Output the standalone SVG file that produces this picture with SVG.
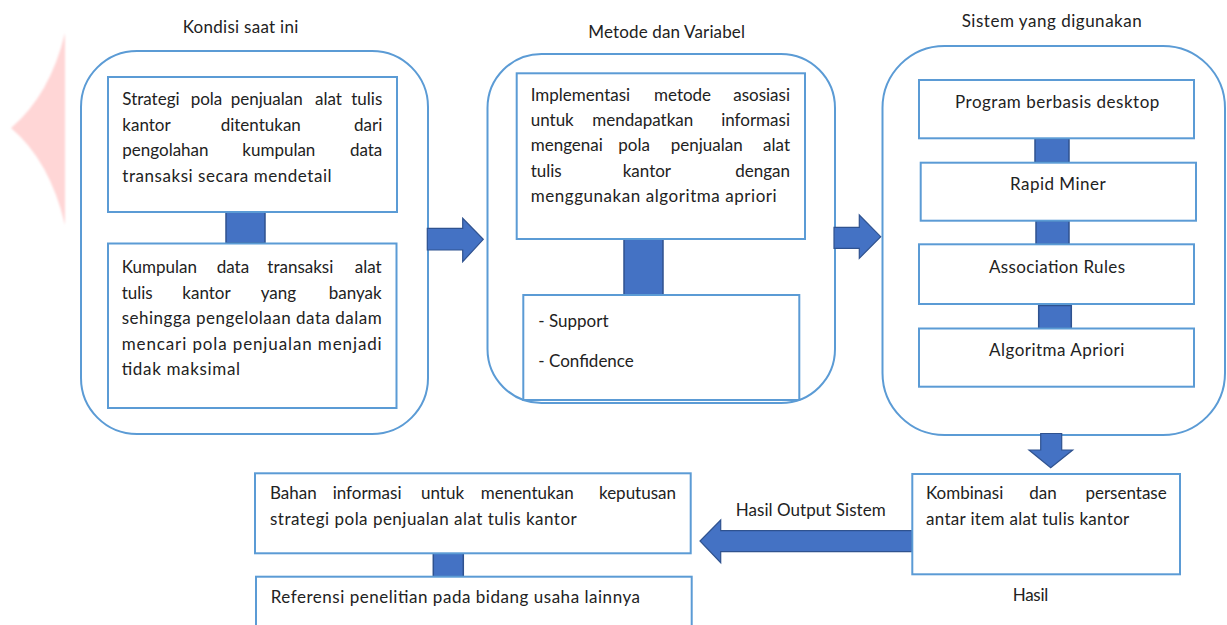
<svg xmlns="http://www.w3.org/2000/svg" width="1227" height="625" viewBox="0 0 1227 625">
  <defs>
    <style>
      .panel { fill: none; stroke: #5B9BD5; stroke-width: 2; }
      .box { fill: #FFFFFF; stroke: #5B9BD5; stroke-width: 2; }
      .link { fill: #4472C4; stroke: #2F528F; stroke-width: 1.5; }
      .arrow { fill: #4472C4; stroke: #2F528F; stroke-width: 1.2; stroke-linejoin: miter; }
      .t { font-family: Lato, "Liberation Sans", sans-serif; font-size: 17px; fill: #222222; }
      .e { text-anchor: end; }
    </style>
    <filter id="soft" x="-20%" y="-20%" width="140%" height="140%">
      <feGaussianBlur stdDeviation="0.8"/>
    </filter>
  </defs>

  <rect width="1227" height="625" fill="#FFFFFF"/>

  <!-- faded pink star fragment at the left margin -->
  <path d="M65,33 Q50,95 11,128 Q50,161 65,225 Z" fill="#FFD6D6" filter="url(#soft)"/>

  <!-- section titles -->
  <text class="t" x="182.7" y="33.3" textLength="115.6" lengthAdjust="spacing">Kondisi saat ini</text>
  <text class="t" x="588.3" y="37.7" textLength="156.7" lengthAdjust="spacing">Metode dan Variabel</text>
  <text class="t" x="961.7" y="26.7" textLength="180" lengthAdjust="spacing">Sistem yang digunakan</text>

  <!-- panel frames -->
  <rect id="panel-kondisi" class="panel" x="81" y="51" width="347" height="383" rx="56" ry="56"/>
  <rect id="panel-metode" class="panel" x="487.5" y="54" width="347.5" height="349" rx="54" ry="54"/>
  <rect id="panel-sistem" class="panel" x="882.5" y="46" width="342.5" height="389" rx="62" ry="62"/>

  <!-- connectors -->
  <g id="connectors">
    <rect class="link" x="226" y="212" width="39" height="31"/>
    <rect class="link" x="624" y="239" width="39" height="56"/>
    <rect class="link" x="1035" y="138.5" width="34" height="24"/>
    <rect class="link" x="1036" y="220.7" width="33" height="23.6"/>
    <rect class="link" x="1038.7" y="305.5" width="32.6" height="23"/>
    <rect class="link" x="433.3" y="553.3" width="30" height="23.4"/>
    <polygon class="arrow" points="427.3,228.3 462.7,228.3 462.7,218.3 483.3,239.3 462.7,261.7 462.7,250 427.3,250"/>
    <polygon class="arrow" points="834,227.3 859.3,227.3 859.3,215 880.7,236.7 859.3,258.3 859.3,248.3 834,248.3"/>
    <polygon class="arrow" points="1040.7,433.5 1061.7,433.5 1061.7,450 1072.7,450 1050.7,467.7 1029,450 1040.7,450"/>
    <polygon class="arrow" points="912,530.7 720.7,530.7 720.7,520 700,541 720.7,562.7 720.7,551.7 912,551.7"/>
  </g>

  <!-- Kondisi saat ini -->
  <g id="node-strategi">
    <rect class="box" x="108" y="77" width="289" height="135"/>
    <text class="t" y="105"><tspan x="122.3">Strategi</tspan><tspan x="190.7">pola</tspan><tspan x="230.7">penjualan</tspan><tspan x="315">alat</tspan><tspan class="e" x="382.3">tulis</tspan></text>
    <text class="t" y="130.5"><tspan x="122.3">kantor</tspan><tspan x="220.7">ditentukan</tspan><tspan class="e" x="382.3">dari</tspan></text>
    <text class="t" y="156"><tspan x="122.3">pengolahan</tspan><tspan x="242.3">kumpulan</tspan><tspan class="e" x="382.3">data</tspan></text>
    <text class="t" x="122.3" y="181.5" textLength="209.3" lengthAdjust="spacing">transaksi secara mendetail</text>
  </g>

  <g id="node-kumpulan">
    <rect class="box" x="108" y="243.5" width="288.5" height="164.5"/>
    <text class="t" y="273"><tspan x="121.7">Kumpulan</tspan><tspan x="216.7">data</tspan><tspan x="267.3">transaksi</tspan><tspan class="e" x="381.7">alat</tspan></text>
    <text class="t" y="298.5"><tspan x="121.7">tulis</tspan><tspan x="182.3">kantor</tspan><tspan x="260.7">yang</tspan><tspan class="e" x="381.7">banyak</tspan></text>
    <text class="t" x="121.7" y="324" textLength="260" lengthAdjust="spacing">sehingga pengelolaan data dalam</text>
    <text class="t" x="121.7" y="349.5" textLength="260" lengthAdjust="spacing">mencari pola penjualan menjadi</text>
    <text class="t" x="121.7" y="375" textLength="118.3" lengthAdjust="spacing">tidak maksimal</text>
  </g>

  <!-- Metode dan Variabel -->
  <g id="node-implementasi">
    <rect class="box" x="516.7" y="73.3" width="288.3" height="165.7"/>
    <text class="t" y="100.7"><tspan x="530.7">Implementasi</tspan><tspan x="654">metode</tspan><tspan class="e" x="790">asosiasi</tspan></text>
    <text class="t" y="125.7"><tspan x="530.7">untuk</tspan><tspan x="592.3">mendapatkan</tspan><tspan class="e" x="790">informasi</tspan></text>
    <text class="t" y="151"><tspan x="530.7">mengenai</tspan><tspan x="618.3">pola</tspan><tspan x="670.7">penjualan</tspan><tspan class="e" x="790">alat</tspan></text>
    <text class="t" y="176.7"><tspan x="530.7">tulis</tspan><tspan x="622.7">kantor</tspan><tspan class="e" x="790">dengan</tspan></text>
    <text class="t" x="530.7" y="202.3" textLength="246" lengthAdjust="spacing">menggunakan algoritma apriori</text>
  </g>

  <g id="node-variabel">
    <rect class="box" x="523.3" y="295" width="276" height="105"/>
    <text class="t" x="538.3" y="326.7">- Support</text>
    <text class="t" x="538.3" y="366.7">- Confidence</text>
  </g>

  <!-- Sistem yang digunakan -->
  <g id="node-program">
    <rect class="box" x="919" y="80" width="275" height="58.3"/>
    <text class="t" x="955" y="108.3" textLength="204.3" lengthAdjust="spacing">Program berbasis desktop</text>
  </g>
  <g id="node-rapidminer">
    <rect class="box" x="920.7" y="162.7" width="275.3" height="58"/>
    <text class="t" x="1010" y="190" textLength="95.7" lengthAdjust="spacing">Rapid Miner</text>
  </g>
  <g id="node-association">
    <rect class="box" x="919" y="244.3" width="275" height="59.7"/>
    <text class="t" x="989" y="272.7" textLength="136" lengthAdjust="spacing">Association Rules</text>
  </g>
  <g id="node-apriori">
    <rect class="box" x="919" y="328.5" width="275" height="58.2"/>
    <text class="t" x="989" y="355.7" textLength="135.3" lengthAdjust="spacing">Algoritma Apriori</text>
  </g>

  <!-- Hasil -->
  <g id="node-kombinasi">
    <rect class="box" x="912.3" y="474" width="267.7" height="100.3"/>
    <text class="t" y="499.3"><tspan x="926">Kombinasi</tspan><tspan x="1029.3">dan</tspan><tspan class="e" x="1166.7">persentase</tspan></text>
    <text class="t" x="926" y="525" textLength="203.3" lengthAdjust="spacing">antar item alat tulis kantor</text>
  </g>
  <text id="label-hasil" class="t" x="1012.7" y="600.7" textLength="35.6" lengthAdjust="spacing">Hasil</text>
  <text id="label-output" class="t" x="735.7" y="516" textLength="150" lengthAdjust="spacing">Hasil Output Sistem</text>

  <!-- Output -->
  <g id="node-bahan">
    <rect class="box" x="255" y="473.3" width="435.7" height="80"/>
    <text class="t" y="499.3"><tspan x="270">Bahan</tspan><tspan x="332.7">informasi</tspan><tspan x="421">untuk</tspan><tspan x="480.7">menentukan</tspan><tspan class="e" x="676">keputusan</tspan></text>
    <text class="t" x="270" y="525" textLength="306.7" lengthAdjust="spacing">strategi pola penjualan alat tulis kantor</text>
  </g>
  <g id="node-referensi">
    <rect class="box" x="256" y="576.7" width="435.7" height="60"/>
    <text class="t" x="270.7" y="603.3" textLength="369.3" lengthAdjust="spacing">Referensi penelitian pada bidang usaha lainnya</text>
  </g>
</svg>
